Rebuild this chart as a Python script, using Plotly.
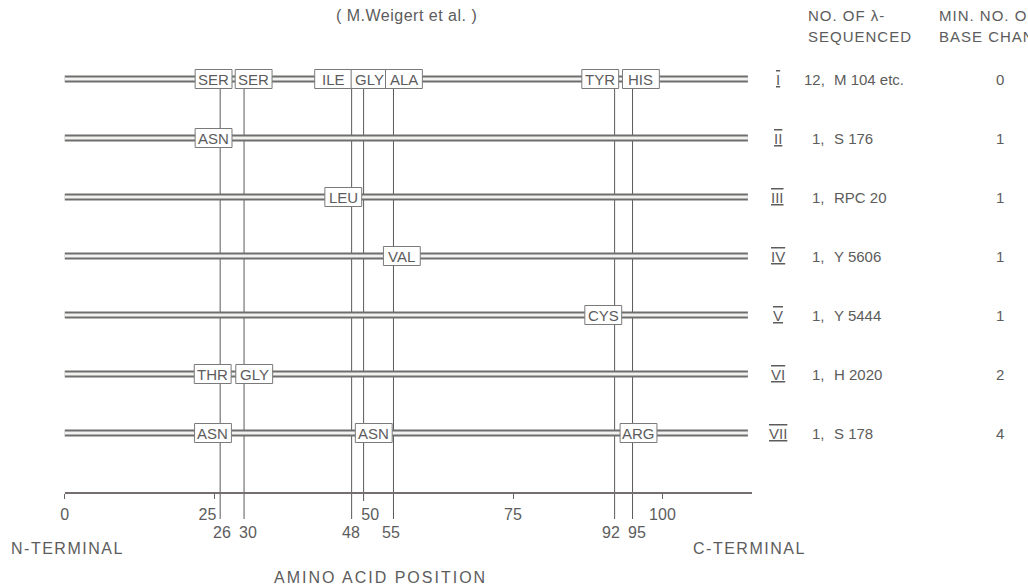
import plotly.graph_objects as go

W, H = 1028, 586

# ---------------- data ----------------
rows = ["I", "II", "III", "IV", "V", "VI", "VII"]
counts = ["12,", "1,", "1,", "1,", "1,", "1,", "1,"]
strains = ["M 104 etc.", "S 176", "RPC 20", "Y 5606", "Y 5444", "H 2020", "S 178"]
base_changes = ["0", "1", "1", "1", "1", "2", "4"]

# substituted residues per variant and the centre of their label box (amino-acid units)
sub_labels = [
    ["SER", "SER", "ILE", "GLY", "ALA", "TYR", "HIS"],
    ["ASN"],
    ["LEU"],
    ["VAL"],
    ["CYS"],
    ["THR", "GLY"],
    ["ASN", "ASN", "ARG"],
]
sub_centres = [
    [24.9, 31.6, 44.9, 51.0, 56.75, 89.6, 96.4],
    [24.9],
    [46.6],
    [56.4],
    [90.1],
    [24.75, 31.7],
    [24.8, 51.7, 96.0],
]
variable_positions = [26, 30, 48, 50, 55, 92, 95]
position_labels = ["26", "30", "48", "", "55", "92", "95"]
axis_ticks = [0, 25, 50, 75, 100]
axis_tick_labels = ["0", "25", "50", "75", "100"]
chain_length = 114.3
axis_length = 115

# ---------------- layout constants ----------------
PX_PER_UNIT = 6.0
X0_PX = 61.0
ROW0_PX = 79.0
ROW_PITCH = 59.0
AXIS_Y = (493 - ROW0_PX) / ROW_PITCH
BOX_HALF_W = 18.5 / PX_PER_UNIT
BOX_HALF_H = 9.5 / ROW_PITCH

FONT = "Liberation Sans, Arial, Helvetica, sans-serif"
TXT = "#5c5c5c"
LINE = "#5a5a5a"
NBSP = "\u00a0"

# small horizontal nudges (px) for the position labels so neighbours do not collide
LABEL_NUDGE = {"26": 2, "30": 4, "48": -1, "55": -2, "92": -4, "95": 4}
# tick labels are set slightly off their ticks in the original, away from the guide lines
TICK_PAD = {"25": (0, 3), "50": (3, 0)}


def px_x(p):
    return (p - X0_PX) / PX_PER_UNIT


def px_y(p):
    return (p - ROW0_PX) / ROW_PITCH


def spaced(text, sp):
    return '<span style="letter-spacing:%spx">%s</span>' % (sp, text)


fig = go.Figure()

# vertical guide lines at the variable positions
vx, vy = [], []
for p, lab in zip(variable_positions, position_labels):
    bottom = px_y(519) if lab else px_y(501)
    vx += [p, p, None]
    vy += [BOX_HALF_H, bottom, None]
fig.add_trace(go.Scatter(x=vx, y=vy, mode="lines", line=dict(color=LINE, width=1),
                         hoverinfo="skip", showlegend=False))

# axis line (on the visible amino-acid axis)
fig.add_trace(go.Scatter(x=[0, axis_length], y=[AXIS_Y, AXIS_Y], xaxis="x2", yaxis="y",
                         mode="lines", line=dict(color="#756d70", width=2),
                         hoverinfo="skip", showlegend=False))

# chain double lines
rx, ry = [], []
for i in range(len(rows)):
    rx += [0, chain_length, None]
    ry += [i, i, None]
fig.add_trace(go.Scatter(x=rx, y=ry, mode="lines", line=dict(color="#6e6e6e", width=7),
                         hoverinfo="skip", showlegend=False))
fig.add_trace(go.Scatter(x=rx, y=ry, mode="lines", line=dict(color="#f2f2f0", width=3),
                         hoverinfo="skip", showlegend=False))

shapes = []
annotations = []

# substitution boxes
for i, (labs, cents) in enumerate(zip(sub_labels, sub_centres)):
    for lab, c in zip(labs, cents):
        shapes.append(dict(type="rect", xref="x", yref="y",
                           x0=c - BOX_HALF_W, x1=c + BOX_HALF_W,
                           y0=i - BOX_HALF_H, y1=i + BOX_HALF_H,
                           fillcolor="white", line=dict(color="#7a7a7a", width=1),
                           layer="above"))
        annotations.append(dict(x=c, y=i, xref="x", yref="y", text=lab, showarrow=False,
                                font=dict(family=FONT, size=15, color=TXT),
                                xanchor="center", yanchor="middle"))

# right-hand columns
for i in range(len(rows)):
    annotations.append(dict(x=px_x(777), y=i, xref="x", yref="y",
                            text='<span style="text-decoration:overline underline">%s</span>' % rows[i],
                            showarrow=False, font=dict(family=FONT, size=15, color=TXT),
                            xanchor="center", yanchor="middle"))
    annotations.append(dict(x=px_x(826), y=i, xref="x", yref="y", text=counts[i],
                            showarrow=False, font=dict(family=FONT, size=15, color=TXT),
                            xanchor="right", yanchor="middle"))
    annotations.append(dict(x=px_x(831), y=i, xref="x", yref="y", text=strains[i],
                            showarrow=False, font=dict(family=FONT, size=15, color=TXT),
                            xanchor="left", yanchor="middle"))
    annotations.append(dict(x=px_x(1000), y=i, xref="x", yref="y", text=base_changes[i],
                            showarrow=False, font=dict(family=FONT, size=15, color=TXT),
                            xanchor="center", yanchor="middle"))


# headers and title
def add_text(xpx, ypx, text, anchor="left", size=15):
    annotations.append(dict(x=xpx / W, y=1 - ypx / H, xref="paper", yref="paper", text=text,
                            showarrow=False, font=dict(family=FONT, size=size, color=TXT),
                            xanchor=anchor, yanchor="middle"))


add_text(404, 16, spaced("( M.Weigert et al. )", 0.5), "center", 16)
add_text(805, 15, spaced("NO. OF λ-", 1))
add_text(805, 37, spaced("SEQUENCED", 1))
add_text(937, 15, spaced("MIN. NO. OF", 1))
add_text(937, 37, spaced("BASE CHANGES", 1))
add_text(64, 548, spaced("N-TERMINAL", 1.5), "center", 16)
add_text(748, 548, spaced("C-TERMINAL", 1.5), "center", 16)
add_text(378, 577, spaced("AMINO ACID POSITION", 2), "center", 16)

# secondary position labels under the axis
for p, lab in zip(variable_positions, position_labels):
    if lab:
        annotations.append(dict(x=p, y=px_y(532), xref="x", yref="y", text=lab,
                                xshift=LABEL_NUDGE.get(lab, 0),
                                showarrow=False, font=dict(family=FONT, size=16, color=TXT),
                                xanchor="center", yanchor="middle"))

tick_text = []
for t in axis_tick_labels:
    lead, trail = TICK_PAD.get(t, (0, 0))
    tick_text.append(NBSP * lead + t + NBSP * trail)

fig.update_layout(
    width=W, height=H,
    margin=dict(l=0, r=0, t=0, b=0),
    paper_bgcolor="white", plot_bgcolor="rgba(0,0,0,0)",
    showlegend=False,
    xaxis=dict(range=[px_x(0), px_x(W)], domain=[0, 1], visible=False, fixedrange=True),
    yaxis=dict(range=[px_y(H), px_y(0)], domain=[0, 1], visible=False, fixedrange=True),
    xaxis2=dict(range=[0, axis_length],
                domain=[X0_PX / W, (X0_PX + axis_length * PX_PER_UNIT) / W],
                anchor="free", position=1 - 493 / H,
                showline=False, showgrid=False, zeroline=False,
                ticks="outside", ticklen=5, tickwidth=1, tickcolor="#666666",
                tickvals=axis_ticks, ticktext=tick_text, ticklabelstandoff=2,
                tickfont=dict(family=FONT, size=16, color=TXT), fixedrange=True),
    shapes=shapes,
    annotations=annotations,
)

fig.write_html("out.html")
